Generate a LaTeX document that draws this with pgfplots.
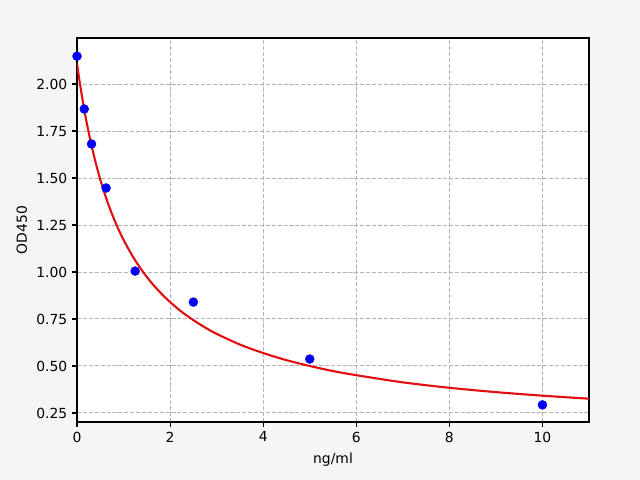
\documentclass[border=0pt]{standalone}
\usepackage{pgfplots}
\pgfplotsset{compat=1.18}
\usepackage{fontspec}
\setmainfont{DejaVu Sans}
\usetikzlibrary{backgrounds}
\definecolor{figbg}{RGB}{245,245,245}
\definecolor{gridc}{RGB}{180,180,180}
\definecolor{fitred}{RGB}{225,15,15}
\definecolor{ptblue}{RGB}{0,0,245}

\begin{document}
\fontsize{13.9bp}{16bp}\selectfont
\begin{tikzpicture}
\begin{axis}[
    at={(77bp,58bp)}, anchor=south west,
    width=512bp, height=384bp, scale only axis,
    xmin=0, xmax=11, ymin=0.202, ymax=2.245,
    axis background/.style={fill=white},
    xtick={0,2,...,10},
    ytick={0.25,0.5,0.75,1.0,1.25,1.5,1.75,2.0},
    yticklabel style={/pgf/number format/.cd,fixed,fixed zerofill,precision=2},
    /pgf/number format/assume math mode=true,
    tick align=outside, tick pos=left,
    major tick length=4.9bp,
    tick style={black, line width=1.1bp},
    axis line style={black, line width=1.1bp},
    grid=major,
    grid style={gridc, dash pattern=on 4.1bp off 1.8bp, line width=1bp},
    xlabel={ng/ml}, ylabel={OD450},
    xlabel style={at={(axis description cs:0.5,-0.1068)}, anchor=base},
    ylabel style={at={(axis description cs:-0.0977,0.5)}, anchor=base, rotate=0},
]
% fitted standard curve
\addplot[fitred, line width=2.1bp, smooth] coordinates {
(0,2.110) (0.05,2.024) (0.1,1.945) (0.15,1.872) (0.2,1.805) (0.25,1.744)
(0.3,1.686) (0.4,1.583) (0.5,1.492) (0.6,1.413) (0.7,1.342) (0.8,1.279)
(0.9,1.222) (1.0,1.171) (1.2,1.082) (1.4,1.007) (1.6,0.943) (1.8,0.888)
(2.0,0.840) (2.25,0.788) (2.5,0.744) (2.75,0.705) (3.0,0.671) (3.5,0.614)
(4.0,0.569) (4.5,0.531) (5.0,0.500) (5.5,0.473) (6,0.451) (7,0.413)
(8,0.384) (9,0.361) (10,0.342) (11,0.326)
};
% standards
\addplot[only marks, mark=*, mark size=4.5bp, ptblue, mark options={draw=ptblue, fill=ptblue}] coordinates {
(0,2.148) (0.156,1.867) (0.3125,1.681) (0.625,1.447)
(1.25,1.005) (2.5,0.840) (5,0.537) (10,0.293)
};
\end{axis}
\begin{scope}[on background layer]
\fill[figbg] (0,0) rectangle (640bp,480bp);
\end{scope}
\end{tikzpicture}
\end{document}
